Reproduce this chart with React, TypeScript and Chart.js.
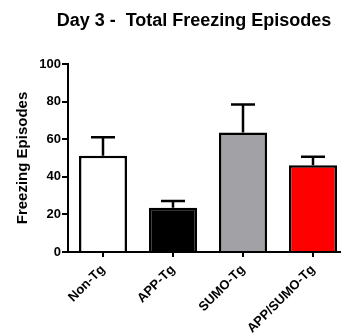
import { useEffect, useRef } from "react";
import { Chart, registerables } from "chart.js";

Chart.register(...registerables);

const categories = ["Non-Tg", "APP-Tg", "SUMO-Tg", "APP/SUMO-Tg"];
const means = [51.2, 23.6, 63.5, 46.2];
const sem = [9.8, 3.5, 15.0, 4.4];
const barColors = ["#ffffff", "#000000", "#a2a1a5", "#ff0000"];
const titleText = "Day 3 -  Total Freezing Episodes";
const yTitle = "Freezing Episodes";

const FONT = "'Liberation Sans', Arial, Helvetica, sans-serif";

const errorBars = {
  id: "errorBars",
  afterDatasetsDraw(chart: any) {
    const { ctx } = chart;
    const meta = chart.getDatasetMeta(0);
    const y = chart.scales.y;
    ctx.save();
    ctx.strokeStyle = "#000";
    ctx.lineWidth = 2.5;
    ctx.lineCap = "butt";
    meta.data.forEach((bar: any, i: number) => {
      const x = bar.x;
      const top = y.getPixelForValue(means[i]);
      const hi = y.getPixelForValue(means[i] + sem[i]);
      const half = bar.width / 4;
      ctx.beginPath();
      ctx.moveTo(x, top);
      ctx.lineTo(x, hi);
      ctx.moveTo(x - half, hi);
      ctx.lineTo(x + half, hi);
      ctx.stroke();
    });
    ctx.restore();
  },
};

const chartTitle = {
  id: "chartTitle",
  afterDraw(chart: any) {
    const { ctx } = chart;
    ctx.save();
    ctx.fillStyle = "#000";
    ctx.font = `bold 18px ${FONT}`;
    ctx.textAlign = "center";
    ctx.textBaseline = "alphabetic";
    ctx.fillText(titleText, 194, 26);
    ctx.restore();
  },
};

export default function App() {
  const ref = useRef<HTMLCanvasElement | null>(null);

  useEffect(() => {
    if (!ref.current) return;
    const chart = new Chart(ref.current, {
      type: "bar",
      data: {
        labels: categories,
        datasets: [
          {
            data: means,
            backgroundColor: barColors,
            borderColor: "#000",
            borderWidth: 2.5,
            borderSkipped: "start",
            barPercentage: 0.686,
            categoryPercentage: 1,
          },
        ],
      },
      options: {
        responsive: false,
        animation: false,
        devicePixelRatio: 1,
        layout: { padding: { top: 64, right: 2, left: 0, bottom: 0 } },
        plugins: {
          legend: { display: false },
          tooltip: { enabled: false },
          title: { display: false },
        },
        scales: {
          x: {
            z: 1,
            offset: true,
            grid: {
              offset: false,
              drawOnChartArea: false,
              drawTicks: true,
              tickLength: 5,
              color: "#000",
              lineWidth: 2,
            },
            border: { display: true, color: "#000", width: 2 },
            ticks: {
              color: "#000",
              font: { family: FONT, size: 13, weight: "bold" },
              minRotation: 45,
              maxRotation: 45,
              padding: 5,
              autoSkip: false,
            },
            afterFit: (scale: any) => {
              scale.height = 83;
            },
          },
          y: {
            min: 0,
            max: 100,
            grid: {
              drawOnChartArea: false,
              drawTicks: true,
              tickLength: 6,
              color: "#000",
              lineWidth: 2,
            },
            border: { display: true, color: "#000", width: 2 },
            ticks: {
              stepSize: 20,
              color: "#000",
              font: { family: FONT, size: 13, weight: "bold" },
              padding: 1,
            },
            title: {
              display: true,
              text: yTitle,
              color: "#000",
              font: { family: FONT, size: 15, weight: "bold" },
              padding: { top: 14, bottom: 0 },
            },
            afterFit: (scale: any) => {
              scale.width = 68;
            },
          },
        },
      },
      plugins: [errorBars, chartTitle],
    });
    return () => chart.destroy();
  }, []);

  return (
    <div
      style={{
        position: "fixed",
        left: 0,
        top: 0,
        width: 341,
        height: 335,
        overflow: "hidden",
        background: "#fff",
      }}
    >
      <canvas ref={ref} width={350} height={335} style={{ display: "block" }} />
    </div>
  );
}
